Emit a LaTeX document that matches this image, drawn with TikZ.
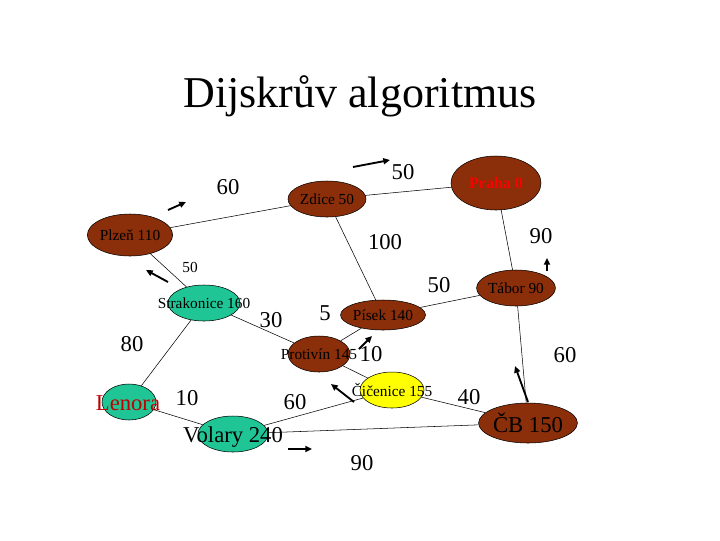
\documentclass[tikz,border=0pt]{standalone}
\usepackage{fontspec}
\setmainfont{Liberation Serif}
\usetikzlibrary{shapes.geometric,arrows.meta}
\definecolor{brn}{HTML}{8B2E0A}
\definecolor{grn}{HTML}{20C596}
\definecolor{ylw}{HTML}{FFFF00}
\begin{document}
\begin{tikzpicture}[x=0.75pt,y=-0.75pt,
  town/.style 2 args={ellipse,draw=black,line width=0.4pt,inner sep=0pt,minimum width=#1*0.75pt,minimum height=#2*0.75pt},
  lbl/.style={font=\fontsize{17}{17}\selectfont},
  slbl/.style={font=\fontsize{11.5}{11.5}\selectfont},
  edge/.style={line width=0.4pt},
  arr/.style={line width=1.4pt,-{Triangle[length=5pt,width=4.5pt]}}]
\useasboundingbox (0,0) rectangle (720,540);
\node[font=\fontsize{33}{33}\selectfont] (title) at (360,96) {Dijskrův algoritmus};
\node[town={90}{54},fill=brn,text=red,font=\bfseries\fontsize{12}{12}\selectfont] (praha) at (496,183) {Praha 0};
\node[town={78}{36},fill=brn,slbl] (zdice) at (327,199) {Zdice 50};
\node[town={78}{42},fill=brn,slbl] (plzen) at (130,235) {Plzeň 110};
\node[town={72}{36},fill=grn] (strak) at (204,303) {};
\node[slbl] at (204,303) {Strakonice 160};
\node[town={72}{36},fill=brn,slbl] (tabor) at (516,288) {Tábor 90};
\node[town={82}{30},fill=brn,slbl] (pisek) at (383,315) {Písek 140};
\node[town={62}{36},fill=brn] (protivin) at (319,354) {};
\node[slbl] at (319,354) {Protivín 145};
\node[town={64}{36},fill=ylw] (cicen) at (392,390) {};
\node[slbl] at (392,390) {Čičenice 155};
\node[town={54}{36},fill=grn] (lenora) at (129,402) {};
\node[lbl,text=red!75!black] at (128,403) {Lenora};
\node[town={70}{36},fill=grn] (volary) at (233,434) {};
\node[lbl] at (233,437) {Volary 240};
\node[town={90}{40},fill=brn,lbl] (cb) at (528,423) {ČB 150};
\draw[edge] (praha) -- (zdice);
\draw[edge] (zdice) -- (plzen);
\draw[edge] (plzen) -- (strak);
\draw[edge] (zdice) -- (pisek);
\draw[edge] (praha) -- (tabor);
\draw[edge] (tabor) -- (pisek);
\draw[edge] (pisek) -- (protivin);
\draw[edge] (strak) -- (protivin);
\draw[edge] (strak) -- (lenora);
\draw[edge] (lenora) -- (volary);
\draw[edge] (protivin) -- (cicen);
\draw[edge] (cicen) -- (volary);
\draw[edge] (cicen) -- (cb);
\draw[edge] (volary) -- (cb);
\draw[edge] (tabor) -- (cb);
\node[lbl] at (228,187) {60};
\node[lbl] at (403,172) {50};
\node[lbl] at (385,242) {100};
\node[lbl] at (541,236) {90};
\node[slbl] at (190,267) {50};
\node[lbl] at (439,285) {50};
\node[lbl] at (271,320) {30};
\node[lbl] at (325,313) {5};
\node[lbl] at (132,344) {80};
\node[lbl] at (371,354) {10};
\node[lbl] at (565,355) {60};
\node[lbl] at (187,398) {10};
\node[lbl] at (295,402) {60};
\node[lbl] at (469,397) {40};
\node[lbl] at (362,463) {90};
\draw[arr] (168,210) -- (186,202);
\draw[arr] (353,167) -- (390,160);
\draw[arr] (168,282) -- (146,270);
\draw[arr] (547,271) -- (547,258);
\draw[arr] (359,349) -- (372,336);
\draw[arr] (354,402) -- (331,384);
\draw[arr] (528,402) -- (515,366);
\draw[arr] (288,449) -- (312,449);
\end{tikzpicture}
\end{document}
